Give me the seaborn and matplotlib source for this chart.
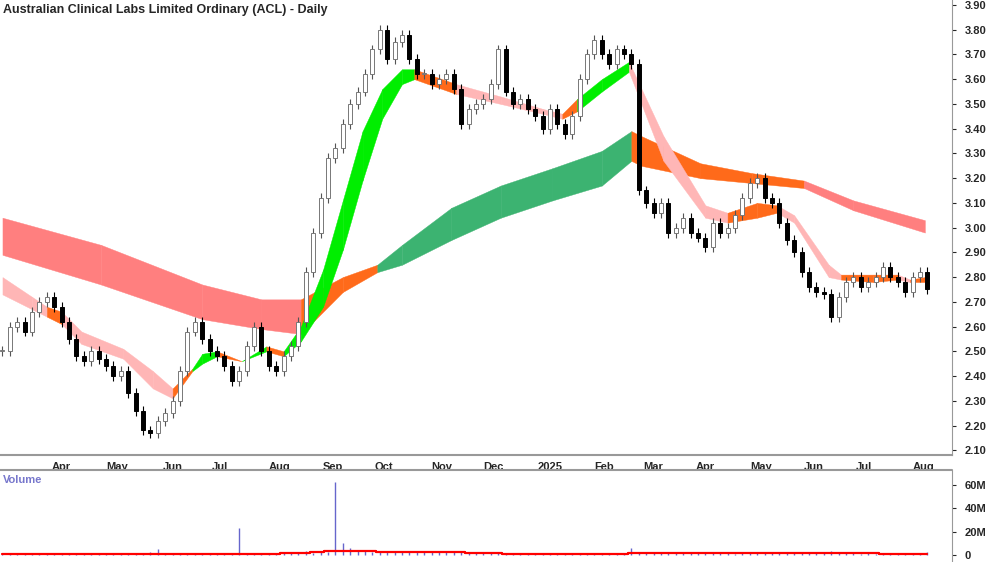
import numpy as np
import pandas as pd
import matplotlib
matplotlib.use("Agg")
import matplotlib.pyplot as plt
import seaborn as sns

sns.set_style("white")
plt.rcParams['font.family'] = ['Liberation Sans', 'DejaVu Sans']

title = "Australian Clinical Labs Limited Ordinary (ACL) - Daily"
start_date = "2024-03-04"
n_sessions = 376
step = 3  # sessions between sampled bars

closes = [2.50, 2.60, 2.62, 2.58, 2.66, 2.70, 2.72, 2.68, 2.62, 2.55, 2.48, 2.46, 2.50, 2.47, 2.44, 2.40,
          2.42, 2.33, 2.26, 2.18, 2.17, 2.22, 2.25, 2.30, 2.42, 2.58, 2.62, 2.55, 2.50, 2.48, 2.44, 2.38,
          2.42, 2.52, 2.60, 2.50, 2.44, 2.42, 2.48, 2.52, 2.62, 2.82, 2.98, 3.12, 3.28, 3.32, 3.42, 3.50,
          3.55, 3.62, 3.72, 3.80, 3.68, 3.75, 3.78, 3.68, 3.62, 3.62, 3.58, 3.60, 3.62, 3.56, 3.42, 3.48,
          3.50, 3.52, 3.58, 3.72, 3.55, 3.50, 3.52, 3.48, 3.45, 3.40, 3.48, 3.42, 3.38, 3.45, 3.60, 3.70,
          3.76, 3.70, 3.66, 3.72, 3.70, 3.66, 3.15, 3.10, 3.06, 3.10, 2.98, 3.00, 3.04, 2.98, 2.96, 2.92,
          3.02, 2.98, 3.00, 3.05, 3.12, 3.18, 3.20, 3.12, 3.10, 3.02, 2.95, 2.90, 2.82, 2.76, 2.74, 2.73,
          2.64, 2.72, 2.78, 2.80, 2.76, 2.78, 2.80, 2.84, 2.80, 2.78, 2.74, 2.80, 2.82, 2.75]

volumes_m = [1.0, 1.2, 0.9, 1.1, 1.0, 0.8, 1.3, 1.0, 0.9, 1.1, 1.0, 1.2, 0.9, 1.0, 1.1, 1.0,
             1.2, 1.0, 1.3, 1.1, 2.5, 5.0, 1.2, 1.0, 1.1, 1.0, 1.3, 1.0, 0.9, 1.2, 1.1, 1.0,
             23.0, 1.2, 1.0, 1.3, 1.1, 1.0, 1.5, 2.0, 1.8, 4.0, 2.0, 2.5, 3.0, 62.0, 10.0, 6.0,
             4.0, 3.5, 3.0, 3.5, 3.0, 2.8, 3.0, 2.5, 2.8, 3.0, 2.5, 2.6, 2.4, 2.5, 2.8, 2.3,
             2.2, 2.0, 2.3, 1.5, 1.2, 1.0, 1.1, 0.9, 1.0, 1.2, 1.0, 0.9, 1.1, 1.0, 1.2, 1.0,
             1.1, 1.3, 1.0, 1.2, 1.4, 6.0, 3.0, 2.0, 2.5, 1.8, 1.6, 2.0, 1.5, 1.8, 1.6, 2.2,
             1.5, 1.7, 1.6, 1.4, 1.8, 1.5, 1.6, 2.0, 1.5, 1.7, 1.6, 2.0, 1.5, 2.5, 3.0, 1.8,
             4.0, 2.0, 1.5, 1.6, 1.4, 1.5, 1.3, 1.5, 1.4, 1.3, 1.5, 1.4, 1.3, 3.0]

# Long moving-average ribbon: anchor sessions, top/bottom prices, segment colours
long_x = [0, 40, 81, 105, 121, 138, 152, 162, 182, 202, 223, 243, 255, 259, 283, 304, 325, 345, 374]
long_top = [3.04, 2.93, 2.77, 2.71, 2.71, 2.80, 2.85, 2.93, 3.08, 3.17, 3.24, 3.31, 3.39, 3.37, 3.26, 3.22, 3.19, 3.11, 3.03]
long_bot = [2.89, 2.77, 2.63, 2.59, 2.57, 2.74, 2.82, 2.85, 2.95, 3.04, 3.11, 3.17, 3.27, 3.25, 3.20, 3.18, 3.16, 3.07, 2.98]
long_seg = ["R", "R", "R", "R", "O", "O", "G", "G", "G", "G", "G", "G", "O", "O", "O", "O", "R", "R"]

# Short moving-average ribbon
short_x = [0, 12, 18, 24, 32, 49, 61, 69, 77, 81, 87, 97, 107, 114, 121, 130, 138, 146, 154, 162, 167,
           184, 202, 219, 227, 233, 243, 254, 268, 285, 294, 306, 314, 321, 335, 340, 353, 363, 368, 374]
short_top = [2.80, 2.72, 2.68, 2.66, 2.58, 2.51, 2.42, 2.35, 2.43, 2.49, 2.50, 2.46, 2.52, 2.50, 2.60, 2.83,
             3.11, 3.39, 3.56, 3.64, 3.64, 3.58, 3.53, 3.48, 3.46, 3.52, 3.60, 3.67, 3.37, 3.09, 3.06, 3.10,
             3.09, 3.05, 2.85, 2.81, 2.81, 2.81, 2.79, 2.80]
short_bot = [2.73, 2.67, 2.64, 2.61, 2.53, 2.47, 2.35, 2.31, 2.42, 2.45, 2.48, 2.46, 2.50, 2.48, 2.54, 2.68,
             2.91, 3.19, 3.44, 3.58, 3.60, 3.54, 3.50, 3.46, 3.44, 3.47, 3.55, 3.63, 3.27, 3.04, 3.02, 3.04,
             3.06, 3.02, 2.80, 2.79, 2.78, 2.79, 2.78, 2.78]
short_seg = ["P", "P", "O", "P", "P", "P", "P", "O", "G", "G", "O", "G", "O", "G", "G", "G", "G", "G", "G", "G",
             "O", "P", "P", "P", "O", "G", "G", "P", "P", "P", "O", "O", "P", "P", "P", "O", "O", "P", "O"]

colors = {"R": "#FF7F7F", "O": "#FF6A1A", "G": "#3CB371", "P": "#FFB6B6", "LG": "#00EE00"}

dates = pd.bdate_range(start_date, periods=n_sessions)
xs = np.arange(len(closes)) * step
opens = [closes[0]] + closes[:-1]

fig = plt.figure(figsize=(10, 5.62), dpi=100)
ax = fig.add_axes([0.0, 0.19, 0.952, 0.81])
axv = fig.add_axes([0.0, 0.0, 0.952, 0.163])

def ribbon(xa, top, bot, seg, green):
    for i, s in enumerate(seg):
        c = colors[s] if s != "G" else green
        ax.fill_between([xa[i], xa[i + 1]], [bot[i], bot[i + 1]], [top[i], top[i + 1]],
                        color=c, lw=0.3, edgecolor=c, zorder=1)

ribbon(long_x, long_top, long_bot, long_seg, colors["G"])
ribbon(short_x, short_top, short_bot, short_seg, colors["LG"])

for x, o, c in zip(xs, opens, closes):
    hi = max(o, c) + 0.02
    lo = min(o, c) - 0.02
    up = c >= o
    ax.vlines(x, lo, hi, color="#555555" if up else "black", lw=0.8, zorder=3)
    ax.bar(x, abs(c - o) if abs(c - o) > 0.004 else 0.004, bottom=min(o, c), width=1.6,
           color="white" if up else "black", edgecolor="#777777" if up else "black", lw=0.7, zorder=4)

ax.set_xlim(-1, 385)
ax.set_ylim(2.08, 3.92)
ax.yaxis.tick_right()
yt = np.round(np.arange(2.1, 3.95, 0.1), 2)
ax.set_yticks(yt)
ax.set_yticklabels([f"{v:.2f}" for v in yt], fontsize=8, fontweight="bold")
ax.tick_params(axis="y", length=3, pad=6)

# month ticks
month_starts = []
labels = []
prev = None
for i, d in enumerate(dates):
    key = (d.year, d.month)
    if prev is not None and key != prev:
        month_starts.append(i)
        labels.append("2025" if d.month == 1 else d.strftime("%b"))
    prev = key
ax.set_xticks(month_starts)
ax.set_xticklabels(labels, fontsize=8, fontweight="bold", ha="left")
ax.tick_params(axis="x", length=3, pad=2)
for sp in ["top", "left"]:
    ax.spines[sp].set_visible(False)
ax.spines["bottom"].set_color("#999999")
ax.spines["bottom"].set_linewidth(1.5)
ax.spines["right"].set_color("#999999")
ax.text(0.003, 0.992, title, transform=ax.transAxes, fontsize=9, fontweight="bold", va="top", ha="left")

axv.vlines(xs, 0, volumes_m, color="#6666CC", lw=1.0, zorder=2)
vma = pd.Series(volumes_m).rolling(9, min_periods=1, center=True).median()
axv.step(xs, vma, where="mid", color="red", lw=1.6, zorder=3)
axv.set_xlim(-1, 385)
axv.set_ylim(-5.75, 72)
axv.yaxis.tick_right()
axv.set_yticks([0, 20, 40, 60])
axv.set_yticklabels(["0", "20M", "40M", "60M"], fontsize=8, fontweight="bold")
axv.tick_params(axis="y", length=3, pad=6)
axv.set_xticks([])
for sp in ["top", "left", "bottom"]:
    axv.spines[sp].set_visible(False)
axv.spines["right"].set_color("#999999")
axv.plot([0, 1], [1, 1], transform=axv.transAxes, color="#999999", lw=1.5, clip_on=False)
axv.text(0.003, 0.95, "Volume", transform=axv.transAxes, fontsize=8, fontweight="bold",
         color="#7777CC", va="top")

fig.savefig("out.png", dpi=100)
